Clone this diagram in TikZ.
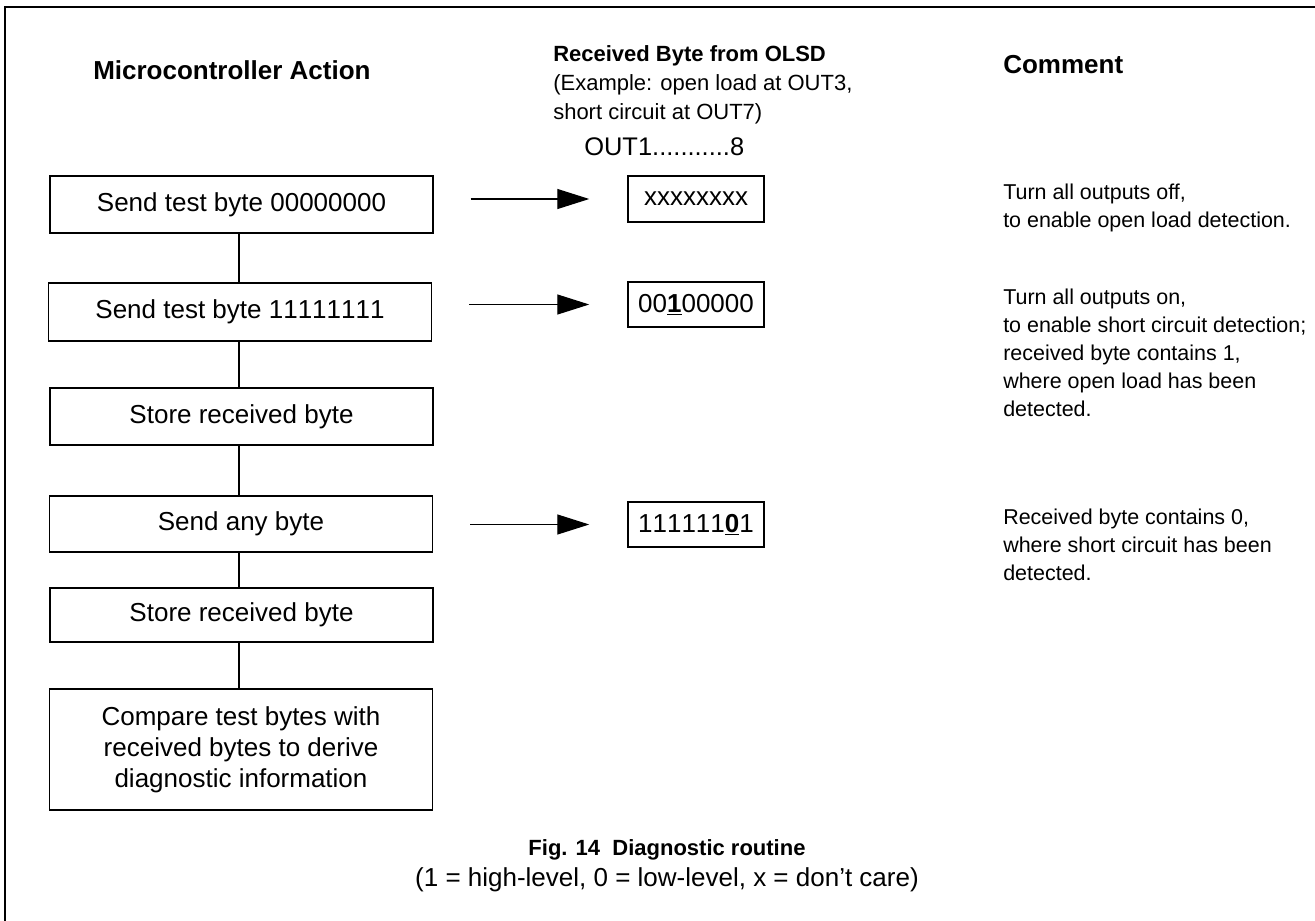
\documentclass[tikz,border=0pt]{standalone}
\usepackage{fontspec}
\setmainfont{Liberation Sans}
\usetikzlibrary{arrows.meta}
\newcommand{\nk}{\addfontfeatures{Kerning=Off}}
\begin{document}
\begin{tikzpicture}[x=0.75pt,y=-0.75pt,
  font=\fontsize{19.5pt}{23.25pt}\selectfont,
  hdr/.style={font=\fontsize{16.5pt}{21.75pt}\selectfont},
  cmt/.style={font=\fontsize{16.1pt}{21pt}\selectfont},
  box/.style={draw,line width=1.1pt,minimum width=287.25pt,inner sep=0pt,align=center},
  bytebox/.style={draw,line width=1.1pt,minimum width=102pt,minimum height=34.5pt,inner sep=0pt},
  conn/.style={line width=0.9pt},
  arr/.style={line width=0.9pt,-{Triangle[length=24pt,width=15pt]},shorten <=27.75pt,shorten >=28.5pt},
  txt/.style={inner sep=0pt,align=left,anchor=north west}]
\useasboundingbox (0,0) rectangle (1315,921);
\draw[line width=1.5pt] (5,921) -- (5,7) -- (1315,7);

% headers
\node[inner sep=0pt,anchor=base west] (h1) at (93,79) {\bfseries Microcontroller Action};
\node[txt,hdr] (h2) at (553,45) {\bfseries Received Byte from OLSD\\(Example: open load at OUT3,\\short circuit at OUT7)};
\node[inner sep=0pt,anchor=base west,font=\fontsize{19.1pt}{20pt}\selectfont] (h3) at (584,155) {OUT1...........8};
\node[inner sep=0pt,anchor=base west] (h4) at (1003,73) {\bfseries Comment};

% left boxes
\node[box,minimum height=42.75pt] (b1) at (241.5,204.5) {Send test byte 00000000};
\node[box,minimum height=43.5pt] (b2) at (240,312) {Send test byte {\nk 11111111}};
\node[box,minimum height=42.75pt] (b3) at (241.5,416.5) {Store received byte};
\node[box,minimum height=42pt] (b4) at (241,524) {Send any byte};
\node[box,minimum height=40.5pt] (b5) at (241.5,615) {Store received byte};
\node[box,minimum height=90.75pt] (b6) at (241,749.5) {Compare test bytes with\\received bytes to derive\\diagnostic information};

\coordinate (cx) at (239,0);
\draw[conn] (b1.south -| cx) -- (b2.north -| cx);
\draw[conn] (b2.south -| cx) -- (b3.north -| cx);
\draw[conn] (b3.south -| cx) -- (b4.north -| cx);
\draw[conn] (b4.south -| cx) -- (b5.north -| cx);
\draw[conn] (b5.south -| cx) -- (b6.north -| cx);

% byte boxes
\node[bytebox] (r1) at (696,199) {xxxxxxxx};
\node[bytebox,minimum height=33.75pt] (r2) at (696,304.5) {\nk 00\textbf{\underline{1}}00000};
\node[bytebox,minimum height=33.75pt] (r3) at (696,524.5) {\nk 111111\textbf{\underline{0}}1};

\draw[arr] (b1.east |- r1.west) -- (r1.west);
\draw[arr] (b2.east |- r2.west) -- (r2.west);
\draw[arr] (b4.east |- r3.west) -- (r3.west);

% comments
\node[txt,cmt] (c1) at (1003,184) {Turn all outputs off,\\to enable open load detection.};
\node[txt,cmt] (c2) at (1003,289) {Turn all outputs on,\\to enable short circuit detection;\\received byte contains 1,\\where open load has been\\detected.};
\node[txt,cmt] (c3) at (1003,509) {Received byte contains 0,\\where short circuit has been\\detected.};

% caption
\node[inner sep=0pt,align=center,anchor=north] (cap) at (667,839) {{\fontsize{16.5pt}{21.75pt}\selectfont\bfseries Fig. 14\ \ Diagnostic routine}\\{\fontsize{19.5pt}{21.75pt}\selectfont (1 = high-level, 0 = low-level, x = don’t care)}};
\end{tikzpicture}
\end{document}
